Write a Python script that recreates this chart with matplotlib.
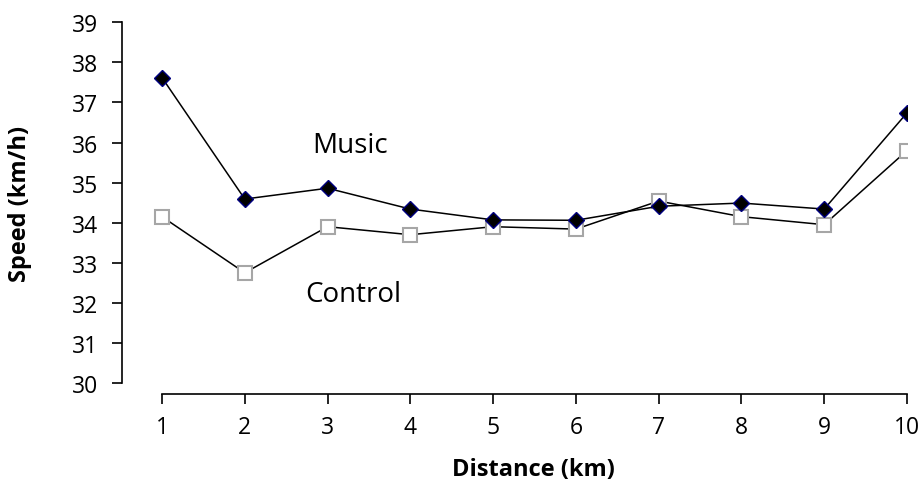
import numpy as np
import matplotlib.pyplot as plt

plt.rcParams['font.family'] = ['Open Sans', 'DejaVu Sans']

# Velocidade média por km
distance = [1, 2, 3, 4, 5, 6, 7, 8, 9, 10]
music = [37.62, 34.59, 34.86, 34.34, 34.07, 34.06, 34.41, 34.49, 34.34, 36.74]
control = [34.15, 32.75, 33.90, 33.70, 33.90, 33.84, 34.54, 34.15, 33.95, 35.80]

W, H = 921, 485
fig = plt.figure(figsize=(W/100, H/100), dpi=100)
ax = fig.add_axes([122/W, 1 - 384/H, (907 - 122)/W, (384 - 23.3)/H])

ax.plot(distance, control, color="black", lw=1.1, marker="s", ms=10,
        mfc="white", mec="#a6a6a6", mew=1.5, zorder=3)
ax.plot(distance, music, color="black", lw=1.1, marker="D", ms=8,
        mfc="black", mec="#000080", mew=1.0, zorder=4)

ax.text(3.27, 35.94, "Music", fontsize=20, ha="center", va="center")
ax.text(3.31, 32.22, "Control", fontsize=20, ha="center", va="center")

ax.set_xlim(1 - 40/82.8, 10)
ax.set_ylim(30, 39)
ax.set_xticks(distance)
ax.set_yticks(np.arange(30, 40, 1))

# eixos no estilo Excel
ax.spines['top'].set_visible(False)
ax.spines['right'].set_visible(False)
ax.spines['bottom'].set_position(('outward', 8))
ax.spines['bottom'].set_bounds(1, 10)
for s in ['left', 'bottom']:
    ax.spines[s].set_linewidth(1.2)
ax.tick_params(axis='both', direction='out', length=7, width=1.2, labelsize=16.5)
ax.tick_params(axis='y', pad=10)
ax.tick_params(axis='x', pad=8)

fig.text(533/W, 1 - 470/H, "Distance (km)", fontsize=17, fontweight="bold",
         ha="center", va="center")
fig.text(20/W, 1 - 204/H, "Speed (km/h)", fontsize=17, fontweight="bold",
         ha="center", va="center", rotation=90)

fig.savefig("out.png", dpi=100)
